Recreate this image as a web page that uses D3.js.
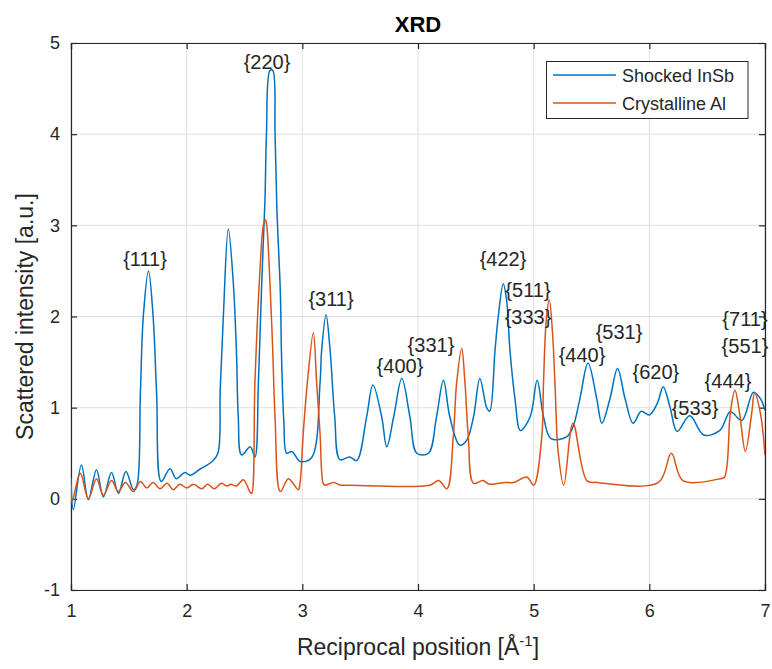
<!DOCTYPE html>
<html>
<head>
<meta charset="utf-8">
<script src="https://cdn.jsdelivr.net/npm/d3@7"></script>
<style>
  html, body { margin: 0; padding: 0; background: #fff; }
  svg { display: block; font-family: "Liberation Sans", Arial, Helvetica, sans-serif; }
</style>
</head>
<body>
<svg id="chart" width="772" height="669"></svg>
<script>
// ---- Data ----
const xTicks = [1, 2, 3, 4, 5, 6, 7];
const yTicks = [-1, 0, 1, 2, 3, 4, 5];
const seriesNames = ["Shocked InSb", "Crystalline Al"];

const insbX = [1.00,1.02,1.09,1.15,1.22,1.28,1.35,1.41,1.475,1.54,1.57,1.60,1.625,1.67,1.71,1.74,1.78,1.856,1.91,1.985,2.03,2.12,2.22,2.27,2.29,2.317,2.36,2.403,2.43,2.446,2.475,2.55,2.59,2.62,2.649,2.677,2.69,2.72,2.744,2.764,2.78,2.81,2.82,2.84,2.865,2.91,2.98,3.08,3.153,3.167,3.205,3.24,3.28,3.325,3.41,3.47,3.556,3.61,3.686,3.73,3.79,3.86,3.93,3.99,4.09,4.16,4.22,4.275,4.36,4.42,4.48,4.535,4.594,4.62,4.666,4.694,4.737,4.766,4.795,4.84,4.885,4.97,5.03,5.085,5.15,5.285,5.34,5.40,5.47,5.545,5.59,5.66,5.725,5.79,5.86,5.93,6.00,6.07,6.12,6.18,6.24,6.35,6.47,6.61,6.70,6.80,6.90,6.96,7.00];
const insbY = [0.23,-0.12,0.37,-0.01,0.32,0.02,0.29,0.06,0.30,0.10,0.15,1.16,2.0,2.5,2.0,1.16,0.19,0.33,0.22,0.29,0.26,0.33,0.41,0.5,1.2,2.0,2.96,2.37,1.63,0.9,0.48,0.57,0.46,1.27,2.37,3.28,4.01,4.70,4.70,4.01,3.18,2.26,1.58,0.85,0.5,0.52,0.41,0.45,1.27,1.63,2.02,1.63,0.9,0.43,0.46,0.42,0.9,1.25,0.9,0.57,0.9,1.32,0.9,0.5,0.5,0.9,1.3,0.9,0.59,0.64,0.9,1.32,1.0,0.96,1.63,2.0,2.36,2.18,1.63,1.08,0.75,0.9,1.3,0.9,0.66,0.68,0.79,1.1,1.49,1.1,0.83,1.1,1.43,1.1,0.83,0.96,0.92,1.05,1.23,1.0,0.74,0.91,0.70,0.75,0.955,0.86,1.17,1.1,0.97];

const alX = [1.00,1.01,1.08,1.15,1.22,1.28,1.35,1.41,1.47,1.54,1.60,1.655,1.71,1.77,1.83,1.885,1.94,2.00,2.06,2.13,2.18,2.24,2.30,2.35,2.38,2.43,2.49,2.55,2.562,2.59,2.634,2.663,2.68,2.69,2.72,2.744,2.764,2.81,2.88,2.965,2.98,3.008,3.043,3.095,3.124,3.153,3.18,3.195,3.27,3.33,3.40,4.10,4.18,4.25,4.305,4.334,4.378,4.406,4.435,4.48,4.56,4.62,4.75,4.83,4.94,5.00,5.07,5.085,5.11,5.135,5.164,5.184,5.213,5.26,5.34,5.46,5.55,6.08,6.19,6.29,6.61,6.65,6.70,6.74,6.78,6.83,6.885,6.91,6.96,7.00];
const alY = [0.15,-0.03,0.28,0.00,0.22,0.04,0.20,0.08,0.18,0.08,0.19,0.12,0.18,0.11,0.17,0.10,0.16,0.12,0.16,0.11,0.16,0.11,0.17,0.14,0.16,0.14,0.21,0.07,0.06,1.27,2.51,3.0,3.06,3.02,2.37,1.63,0.9,0.08,0.22,0.10,0.17,0.72,1.27,1.82,1.27,0.72,0.17,0.15,0.18,0.15,0.15,0.15,0.20,0.11,0.68,1.27,1.65,1.27,0.68,0.17,0.20,0.16,0.18,0.18,0.24,0.15,0.68,1.27,1.98,2.18,1.8,1.27,0.5,0.15,0.83,0.2,0.18,0.18,0.5,0.2,0.22,0.24,0.94,1.19,0.94,0.52,0.94,1.16,0.94,0.48];

const peakLabels = ["{111}","{220}","{311}","{400}","{331}","{422}","{511}","{333}","{440}","{531}","{620}","{533}","{444}","{711}","{551}"];
const peakLabelX = [1.64,2.695,3.248,3.844,4.112,4.735,4.951,4.951,5.418,5.738,6.057,6.395,6.68,6.827,6.827];
const peakLabelY = [2.63,4.796,2.197,1.457,1.687,2.636,2.29,1.99,1.577,1.833,1.39,0.996,1.29,1.97,1.677];

// ---- Layout ----
const svg = d3.select("#chart");
const L = 71, T = 43, R = 765, B = 590;
const x = d3.scaleLinear().domain([1, 7]).range([L, R]);
const y = d3.scaleLinear().domain([-1, 5]).range([B, T]);
const colors = ["#0072BD", "#D95319"];
const textCol = "#262626";

// grid
const grid = svg.append("g");
grid.selectAll("line.gx").data(xTicks).join("line")
  .attr("x1", d => x(d)).attr("x2", d => x(d)).attr("y1", T).attr("y2", B)
  .attr("stroke", "#dfdfdf").attr("stroke-width", 1);
grid.selectAll("line.gy").data(yTicks).join("line")
  .attr("x1", L).attr("x2", R).attr("y1", d => y(d)).attr("y2", d => y(d))
  .attr("stroke", "#dfdfdf").attr("stroke-width", 1);

// axes (ticks inward, box)
const tickLen = 6;
const fmt = d => String(d);
const xAxisB = d3.axisBottom(x).tickValues(xTicks).tickSize(-tickLen).tickPadding(14).tickFormat(fmt);
const xAxisT = d3.axisTop(x).tickValues(xTicks).tickSize(-tickLen).tickFormat("");
const yAxisL = d3.axisLeft(y).tickValues(yTicks).tickSize(-tickLen).tickPadding(11).tickFormat(fmt);
const yAxisR = d3.axisRight(y).tickValues(yTicks).tickSize(-tickLen).tickFormat("");

function styleAxis(g) {
  g.selectAll("path").attr("stroke", textCol).attr("stroke-width", 1.2);
  g.selectAll("line").attr("stroke", textCol).attr("stroke-width", 1.2);
  g.selectAll("text").attr("fill", textCol).style("font-size", "18px")
    .style("font-family", "'Liberation Sans', Arial, sans-serif");
}
svg.append("g").attr("transform", `translate(0,${B})`).call(xAxisB).call(styleAxis);
svg.append("g").attr("transform", `translate(0,${T})`).call(xAxisT).call(styleAxis);
svg.append("g").attr("transform", `translate(${L},0)`).call(yAxisL).call(styleAxis);
svg.append("g").attr("transform", `translate(${R},0)`).call(yAxisR).call(styleAxis);

// clip
svg.append("clipPath").attr("id", "plotclip").append("rect")
  .attr("x", L).attr("y", T).attr("width", R - L).attr("height", B - T);

const line = d3.line().x(d => x(d[0])).y(d => y(d[1])).curve(d3.curveCatmullRom.alpha(0.5));
const series = [d3.zip(insbX, insbY), d3.zip(alX, alY)];
const plot = svg.append("g").attr("clip-path", "url(#plotclip)");
plot.append("path").datum(series[0]).attr("d", line)
  .attr("fill", "none").attr("stroke", colors[0]).attr("stroke-width", 1.5);
plot.append("path").datum(series[1]).attr("d", line)
  .attr("fill", "none").attr("stroke", colors[1]).attr("stroke-width", 1.5);

// peak labels
svg.append("g").selectAll("text").data(peakLabels).join("text")
  .attr("x", (d, i) => x(peakLabelX[i]))
  .attr("y", (d, i) => y(peakLabelY[i]))
  .attr("text-anchor", "middle").attr("dominant-baseline", "central")
  .attr("fill", textCol).style("font-size", "20px")
  .text(d => d);

// title
svg.append("text").attr("x", (L + R) / 2).attr("y", 32).attr("text-anchor", "middle")
  .attr("fill", "#000").style("font-size", "22px").style("font-weight", "bold").text("XRD");

// x label
const xl = svg.append("text").attr("x", (L + R) / 2).attr("y", 655).attr("text-anchor", "middle")
  .attr("fill", textCol).style("font-size", "23px");
xl.append("tspan").text("Reciprocal position [Å");
xl.append("tspan").attr("dy", -9).style("font-size", "15px").text("-1");
xl.append("tspan").attr("dy", 9).text("]");

// y label
svg.append("text").attr("transform", `translate(33,${(T + B) / 2}) rotate(-90)`)
  .attr("text-anchor", "middle").attr("fill", textCol).style("font-size", "23px")
  .text("Scattered intensity [a.u.]");

// legend
const lg = svg.append("g");
lg.append("rect").attr("x", 546.5).attr("y", 61.5).attr("width", 201.5).attr("height", 57)
  .attr("fill", "#fff").attr("stroke", textCol).attr("stroke-width", 1);
seriesNames.forEach((name, i) => {
  const yy = 75 + i * 28;
  lg.append("line").attr("x1", 553).attr("x2", 616).attr("y1", yy).attr("y2", yy)
    .attr("stroke", colors[i]).attr("stroke-width", 1.5);
  lg.append("text").attr("x", 622).attr("y", yy + 1).attr("dominant-baseline", "central")
    .attr("fill", textCol).style("font-size", "18px").text(name);
});
</script>
</body>
</html>
